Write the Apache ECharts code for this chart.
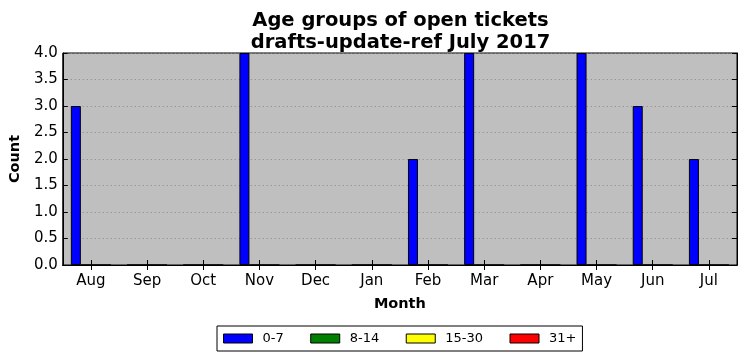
<!DOCTYPE html>
<html><head><meta charset="utf-8">
<script src="https://cdn.jsdelivr.net/npm/echarts@6/dist/echarts.min.js"></script>
<style>html,body{margin:0;padding:0;background:#fff}#c{width:746px;height:361px}</style>
</head><body><div id="c"></div>
<script>
const months = ['Aug','Sep','Oct','Nov','Dec','Jan','Feb','Mar','Apr','May','Jun','Jul'];
const seriesNames = ['0-7','8-14','15-30','31+'];
const seriesColors = ['#0000ff','#008000','#ffff00','#ff0000'];
const age0to7 = [3,0,0,4,0,0,2,4,0,4,3,2];
const age8to14 = [0,0,0,0,0,0,0,0,0,0,0,0];
const age15to30 = [0,0,0,0,0,0,0,0,0,0,0,0];
const age31plus = [0,0,0,0,0,0,0,0,0,0,0,0];
const seriesValues = [age0to7, age8to14, age15to30, age31plus];

const FONT = 'DejaVu Sans';
const chart = echarts.init(document.getElementById('c'), null, {renderer:'canvas'});
const gridL = 62, gridT = 53, gridW = 675, gridH = 212;
const axisCommon = {
  axisLine:{show:true, lineStyle:{color:'#000', width:1}},
};
chart.setOption({
  animation:false,
  backgroundColor:'#fff',
  title:{
    text:'Age groups of open tickets\ndrafts-update-ref July 2017',
    left: gridL + gridW/2 - 4, top: 5, textAlign:'center',
    textStyle:{fontFamily:FONT, fontWeight:'bold', fontSize:19.5, lineHeight:22, color:'#000'}
  },
  legend:{
    data: seriesNames.map((n,i)=>({name:n, icon:'rect', itemStyle:{color:seriesColors[i], borderColor:'#000', borderWidth:1}})),
    left:217, top:326, itemWidth:29, itemHeight:9, itemGap:26.5,
    padding:[6,6,6,6], borderColor:'#000', borderWidth:1,
    textStyle:{fontFamily:FONT, fontSize:13, color:'#000', padding:[0,0,0,5]}
  },
  grid:{left:gridL, top:gridT, width:gridW, height:gridH, show:true, backgroundColor:'#bfbfbf', borderColor:'#000', borderWidth:1, containLabel:false},
  xAxis:[{
    type:'category', data:months, position:'bottom',
    ...axisCommon,
    axisTick:{show:true, inside:true, alignWithLabel:true, length:5, lineStyle:{color:'#000'}},
    axisLabel:{fontFamily:FONT, fontSize:15, color:'#000', margin:9},
    name:'Month', nameLocation:'middle', nameGap:32,
    nameTextStyle:{fontFamily:FONT, fontWeight:'bold', fontSize:14.5, color:'#000'}
  },{
    type:'category', data:months, position:'top',
    ...axisCommon,
    axisTick:{show:true, inside:true, alignWithLabel:true, length:5, lineStyle:{color:'#000'}},
    axisLabel:{show:false}
  }],
  yAxis:[{
    type:'value', min:0, max:4, interval:0.5, position:'left',
    ...axisCommon,
    axisTick:{show:true, inside:true, length:5, lineStyle:{color:'#000'}},
    axisLabel:{fontFamily:FONT, fontSize:15, color:'#000', margin:5, formatter:v=>v.toFixed(1)},
    splitLine:{show:true, lineStyle:{color:'#888', type:[1,3], width:1}},
    name:'Count', nameLocation:'middle', nameGap:39, nameRotate:90,
    nameTextStyle:{fontFamily:FONT, fontWeight:'bold', fontSize:14.5, color:'#000'}
  },{
    type:'value', min:0, max:4, interval:0.5, position:'right',
    ...axisCommon,
    axisTick:{show:true, inside:true, length:5, lineStyle:{color:'#000'}},
    axisLabel:{show:false}, splitLine:{show:false}
  }],
  series: seriesNames.map((n,i)=>({
    name:n, type:'bar', data:seriesValues[i], barWidth:10, barGap:'0%',
    xAxisIndex:0, yAxisIndex:0,
    itemStyle:{color:seriesColors[i], borderColor:'#000', borderWidth:1}
  }))
});
</script></body></html>
